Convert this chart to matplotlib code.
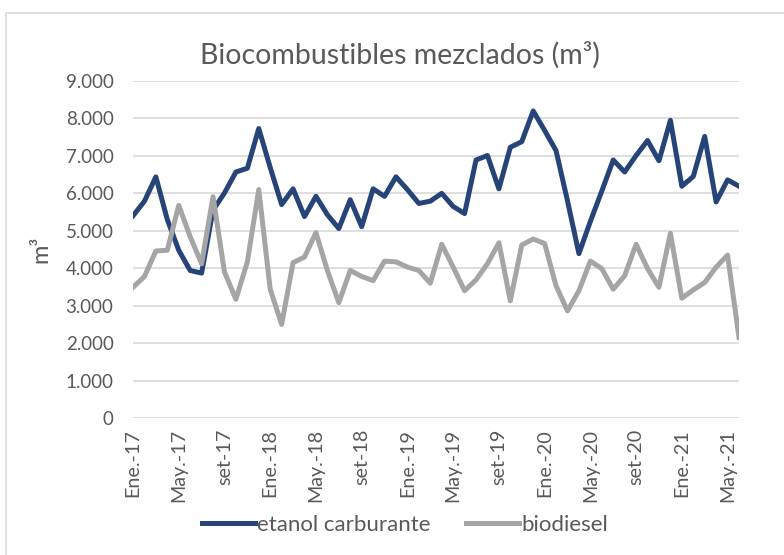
import matplotlib
matplotlib.use("Agg")
import matplotlib.pyplot as plt
from matplotlib.patches import Rectangle
from matplotlib.ticker import FuncFormatter, MultipleLocator
import numpy as np

# monthly volumes, Jan-2017 .. Jun-2021 (m3)
etanol = [5400, 5790, 6440, 5300, 4480, 3940, 3870, 5550, 6010, 6570,
          6670, 7730, 6690, 5700, 6120, 5380, 5920, 5430, 5060, 5830,
          5110, 6120, 5920, 6440, 6100, 5730, 5790, 6000, 5650, 5460,
          6890, 7010, 6120, 7230, 7380, 8200, 7680, 7140, 5800, 4390,
          5250, 6060, 6890, 6570, 7010, 7410, 6870, 7950, 6190, 6450,
          7520, 5770, 6360, 6190]
biodiesel = [3490, 3780, 4460, 4480, 5680, 4840, 4120, 5910, 3900, 3170,
             4170, 6100, 3440, 2500, 4150, 4300, 4950, 3940, 3080, 3940,
             3780, 3670, 4190, 4170, 4030, 3940, 3600, 4640, 4030, 3400,
             3690, 4120, 4680, 3130, 4620, 4780, 4660, 3530, 2860, 3400,
             4190, 3990, 3440, 3800, 4640, 3990, 3490, 4930, 3200, 3420,
             3620, 4030, 4350, 2150]
tick_labels = ["Ene.-17", "May.-17", "set-17", "Ene.-18", "May.-18", "set-18",
               "Ene.-19", "May.-19", "set-19", "Ene.-20", "May.-20", "set-20",
               "Ene.-21", "May.-21"]

plt.rcParams['font.family'] = ['Lato', 'DejaVu Sans']
text_color = '#595959'

fig = plt.figure(figsize=(7.84, 5.55), dpi=100)
ax = fig.add_axes([133 / 784, 1 - 418 / 555, (739 - 133) / 784, (418 - 81) / 555])

# chart frame
fig.patches.append(Rectangle((6 / 784, -0.1), 1.2, 1.1 - 13 / 555,
                             transform=fig.transFigure, fill=False,
                             edgecolor='#D9D9D9', linewidth=1.2))

x = np.arange(len(etanol))
ax.plot(x, etanol, color='#264478', linewidth=3.6, solid_joinstyle='round',
        label='etanol carburante')
ax.plot(x, biodiesel, color='#A5A5A5', linewidth=3.6, solid_joinstyle='round',
        label='biodiesel')

ax.set_xlim(0, len(etanol) - 1)
ax.set_ylim(0, 9000)
ax.yaxis.set_major_locator(MultipleLocator(1000))
ax.yaxis.set_major_formatter(FuncFormatter(lambda v, p: f"{int(v):,}".replace(',', '.')))
ax.set_xticks(np.arange(0, len(etanol), 4))
ax.set_xticklabels(tick_labels, rotation=90)
ax.grid(axis='y', color='#D9D9D9', linewidth=1.2)
ax.set_axisbelow(True)
for s in ax.spines.values():
    s.set_visible(False)
ax.tick_params(axis='both', length=0, colors=text_color, labelsize=13.5)
ax.tick_params(axis='x', labelsize=14.2, pad=8)
ax.tick_params(axis='y', pad=14)

ax.set_ylabel('m³', color=text_color, fontsize=17, labelpad=10)
fig.text(400 / 784, 1 - 55 / 555, 'Biocombustibles mezclados (m³)',
         ha='center', va='center', fontsize=20.5, color=text_color)

fig.legend(loc='center', bbox_to_anchor=(405 / 784, 1 - 525 / 555), ncol=2,
           frameon=False, fontsize=16, labelcolor=text_color,
           handlelength=2.4, handletextpad=0.1, columnspacing=1.6)

fig.savefig('out.png', dpi=100)
